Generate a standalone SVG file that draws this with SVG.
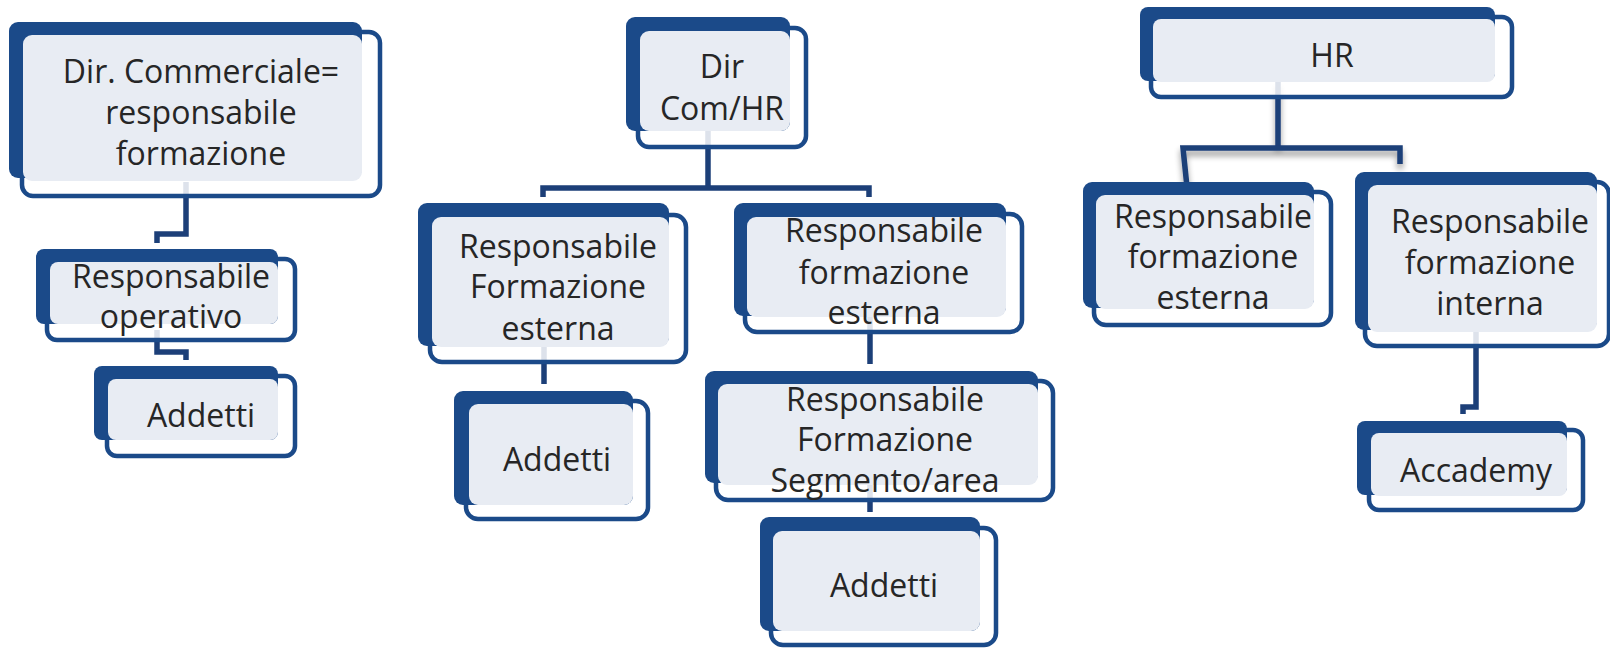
<svg xmlns="http://www.w3.org/2000/svg" width="1610" height="649" viewBox="0 0 1610 649">
<defs>
<style>
.ol{fill:#ffffff;fill-opacity:0.85;stroke:#1B4A89;stroke-width:4.5}
.dk{fill:#1B4A89}
.lt{fill:#E8ECF3}
.tx{font-family:"Open Sans","Noto Sans",sans-serif;font-size:32px;fill:#262626;text-anchor:middle}
.cn{fill:none;stroke:#1C3F78;stroke-width:5.5;stroke-linejoin:miter;stroke-linecap:butt}
</style>
<filter id="sh" x="-10%" y="-30%" width="120%" height="160%">
<feGaussianBlur in="SourceAlpha" stdDeviation="3"/>
<feOffset dx="0" dy="5" result="b"/>
<feComponentTransfer><feFuncA type="linear" slope="0.4"/></feComponentTransfer>
<feMerge><feMergeNode/><feMergeNode in="SourceGraphic"/></feMerge>
</filter>
</defs>
<rect width="1610" height="649" fill="#ffffff"/>
<g id="connectors">
<path class="cn" d="M186 182 V234 H157 V243"/>
<path class="cn" d="M157 330 V352 H186 V360"/>
<path class="cn" d="M708 131 V188"/>
<path class="cn" d="M543 197 V188 H869 V197"/>
<path class="cn" d="M544 347 V384"/>
<path class="cn" d="M870 317 V364"/>
<path class="cn" d="M870 485 V512"/>
<g filter="url(#sh)">
<path class="cn" d="M1278 82 V148"/>
<path class="cn" d="M1187 187 L1183 148 H1400 V164"/>
</g>
<path class="cn" d="M1476 332 V407 H1463 V414"/>
</g>
<g id="n1">
<rect class="ol" x="22" y="32" width="358" height="164" rx="11"/>
<rect class="dk" x="9" y="22" width="353" height="156" rx="9"/>
<rect class="lt" x="23" y="35" width="339" height="146" rx="9"/>
<text class="tx" x="201"><tspan x="201" y="83">Dir. Commerciale=</tspan><tspan x="201" y="124">responsabile</tspan><tspan x="201" y="165">formazione</tspan></text>
</g>
<g id="n2">
<rect class="ol" x="47" y="259" width="248" height="81" rx="10"/>
<rect class="dk" x="36" y="249" width="242" height="75" rx="8"/>
<rect class="lt" x="50" y="262" width="228" height="62" rx="8"/>
<text class="tx"><tspan x="171" y="288">Responsabile</tspan><tspan x="171" y="328">operativo</tspan></text>
</g>
<g id="n3">
<rect class="ol" x="107" y="376" width="188" height="80" rx="10"/>
<rect class="dk" x="94" y="366" width="184" height="74" rx="8"/>
<rect class="lt" x="108" y="379" width="170" height="61" rx="8"/>
<text class="tx" x="201" y="427">Addetti</text>
</g>
<g id="n4">
<rect class="ol" x="638" y="28" width="168" height="119" rx="11"/>
<rect class="dk" x="626" y="17" width="164" height="114" rx="9"/>
<rect class="lt" x="640" y="31" width="150" height="100" rx="9"/>
<text class="tx"><tspan x="722" y="78">Dir</tspan><tspan x="722" y="120">Com/HR</tspan></text>
</g>
<g id="n5">
<rect class="ol" x="430" y="215" width="256" height="147" rx="12"/>
<rect class="dk" x="418" y="203" width="251" height="143" rx="9"/>
<rect class="lt" x="432" y="217" width="237" height="130" rx="9"/>
<text class="tx"><tspan x="558" y="258">Responsabile</tspan><tspan x="558" y="298">Formazione</tspan><tspan x="558" y="340">esterna</tspan></text>
</g>
<g id="n6">
<rect class="ol" x="466" y="401" width="182" height="118" rx="12"/>
<rect class="dk" x="454" y="391" width="179" height="114" rx="9"/>
<rect class="lt" x="469" y="404" width="164" height="101" rx="9"/>
<text class="tx" x="557" y="471">Addetti</text>
</g>
<g id="n7">
<rect class="ol" x="745" y="214" width="277" height="118" rx="12"/>
<rect class="dk" x="734" y="203" width="272" height="113" rx="9"/>
<rect class="lt" x="747" y="217" width="259" height="100" rx="9"/>
<text class="tx"><tspan x="884" y="242">Responsabile</tspan><tspan x="884" y="284">formazione</tspan><tspan x="884" y="324">esterna</tspan></text>
</g>
<g id="n8">
<rect class="ol" x="716" y="381" width="337" height="119" rx="12"/>
<rect class="dk" x="705" y="371" width="333" height="112" rx="9"/>
<rect class="lt" x="718" y="384" width="320" height="101" rx="9"/>
<text class="tx"><tspan x="885" y="411">Responsabile</tspan><tspan x="885" y="451">Formazione</tspan><tspan x="885" y="492">Segmento/area</tspan></text>
</g>
<g id="n9">
<rect class="ol" x="771" y="528" width="225" height="117" rx="12"/>
<rect class="dk" x="760" y="517" width="220" height="114" rx="9"/>
<rect class="lt" x="773" y="531" width="207" height="100" rx="9"/>
<text class="tx" x="884" y="597">Addetti</text>
</g>
<g id="n10">
<rect class="ol" x="1151" y="17" width="361" height="80" rx="10"/>
<rect class="dk" x="1140" y="7" width="355" height="74" rx="8"/>
<rect class="lt" x="1153" y="19" width="342" height="63" rx="8"/>
<text class="tx" x="1332" y="67">HR</text>
</g>
<g id="n11">
<rect class="ol" x="1094" y="192" width="237" height="133" rx="12"/>
<rect class="dk" x="1083" y="182" width="231" height="126" rx="9"/>
<rect class="lt" x="1096" y="195" width="218" height="114" rx="9"/>
<text class="tx"><tspan x="1213" y="228">Responsabile</tspan><tspan x="1213" y="268">formazione</tspan><tspan x="1213" y="309">esterna</tspan></text>
</g>
<g id="n12">
<rect class="ol" x="1365" y="182" width="244" height="164" rx="12"/>
<rect class="dk" x="1355" y="172" width="242" height="158" rx="9"/>
<rect class="lt" x="1368" y="185" width="229" height="147" rx="9"/>
<text class="tx"><tspan x="1490" y="233">Responsabile</tspan><tspan x="1490" y="274">formazione</tspan><tspan x="1490" y="315">interna</tspan></text>
</g>
<g id="n13">
<rect class="ol" x="1369" y="430" width="214" height="80" rx="10"/>
<rect class="dk" x="1357" y="421" width="210" height="74" rx="8"/>
<rect class="lt" x="1371" y="433" width="196" height="63" rx="8"/>
<text class="tx" x="1476" y="482">Accademy</text>
</g>
</svg>
